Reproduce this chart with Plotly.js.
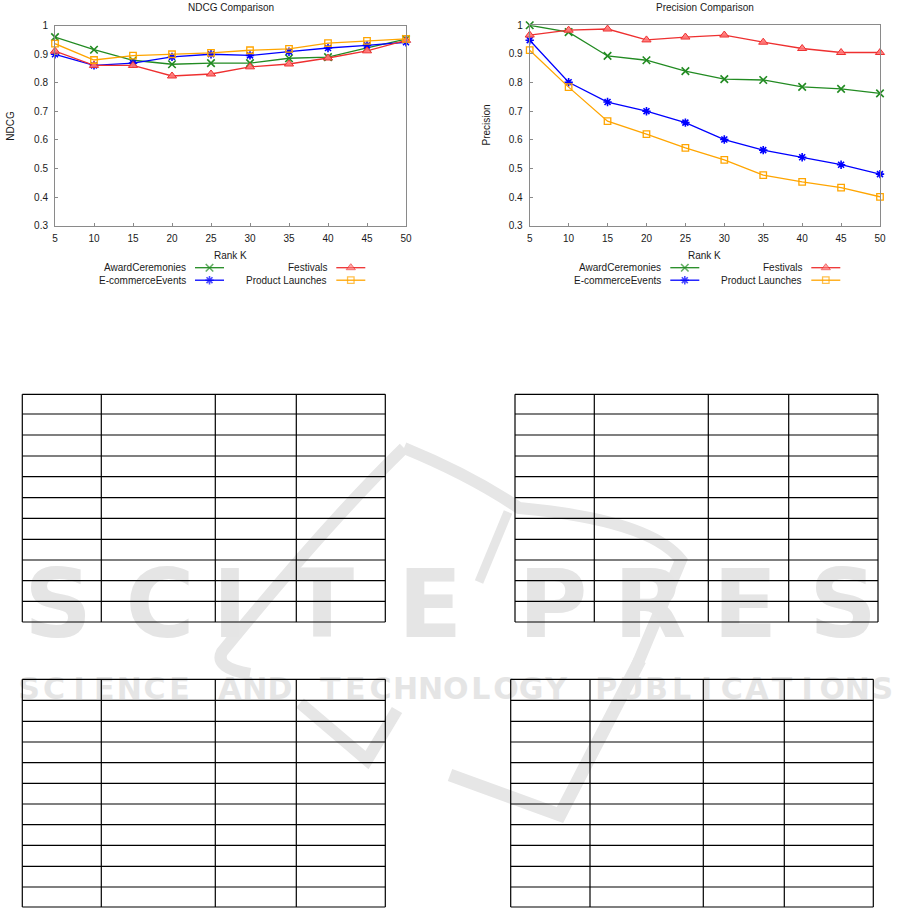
<!DOCTYPE html>
<html>
<head>
<meta charset="utf-8">
<script src="https://cdn.plot.ly/plotly-3.0.1.min.js"></script>
<style>html,body{margin:0;padding:0;background:#fff;}#chart{width:901px;height:908px;}</style>
</head>
<body>
<div id="chart"></div>
<script>
// ---------- data ----------
const rankK = [5, 10, 15, 20, 25, 30, 35, 40, 45, 50];
const seriesNames = ["AwardCeremonies", "E-commerceEvents", "Festivals", "Product Launches"];
const ndcgAward = [0.960, 0.916, 0.879, 0.865, 0.869, 0.869, 0.886, 0.890, 0.922, 0.953];
const ndcgEcom  = [0.900, 0.861, 0.869, 0.891, 0.900, 0.896, 0.909, 0.922, 0.931, 0.942];
const ndcgFest  = [0.911, 0.861, 0.861, 0.824, 0.831, 0.856, 0.866, 0.887, 0.912, 0.949];
const ndcgProd  = [0.937, 0.880, 0.895, 0.900, 0.905, 0.914, 0.919, 0.939, 0.947, 0.954];
const precAward = [1.000, 0.976, 0.893, 0.878, 0.840, 0.812, 0.809, 0.785, 0.778, 0.762];
const precEcom  = [0.948, 0.801, 0.732, 0.700, 0.660, 0.601, 0.564, 0.539, 0.513, 0.480];
const precFest  = [0.966, 0.983, 0.987, 0.949, 0.959, 0.966, 0.941, 0.919, 0.905, 0.905];
const precProd  = [0.913, 0.784, 0.665, 0.620, 0.572, 0.530, 0.477, 0.453, 0.433, 0.401];
const yTickVals = [0.3, 0.4, 0.5, 0.6, 0.7, 0.8, 0.9, 1];
const yTickText = ["0.3", "0.4", "0.5", "0.6", "0.7", "0.8", "0.9", "1"];
const xTickVals = rankK;
const chartTitles = ["NDCG Comparison", "Precision Comparison"];
const yTitles = ["NDCG", "Precision"];
const xTitle = "Rank K";
const watermarkBig = "SCITEPRES";   // the visible part of the watermark (last S is outside the picture)
const watermarkSmall = "SCIENCE AND TECHNOLOGY PUBLICATIONS";

// ---------- layout helpers ----------
const W = 901, H = 908;
const px = x => x / W;
const py = y => 1 - y / H;
const FONT = "Liberation Sans, Arial, sans-serif";
const TXT = "#1a1a1a";

const styles = [
  {color: "#228b22", symbol: "x-thin-open", size: 7.5, lw: 1.6, fill: null},
  {color: "#0000ff", symbol: "asterisk-open", size: 7, lw: 1.6, fill: null},
  {color: "#ee3030", symbol: "triangle-up", size: 8, lw: 1.0, fill: "rgba(255,120,120,0.9)"},
  {color: "#ffa500", symbol: "square-open", size: 6.5, lw: 1.3, fill: null}
];

const charts = [
  {xa: "x", ya: "y", left: 55, right: 406, top: 25.7, bottom: 225.7, data: [ndcgAward, ndcgEcom, ndcgFest, ndcgProd],
   ytitleX: 11, legCol1: 188, legCol2: 329.3},
  {xa: "x2", ya: "y2", left: 529.7, right: 880, top: 25.3, bottom: 225.7, data: [precAward, precEcom, precFest, precProd],
   ytitleX: 486, legCol1: 663.3, legCol2: 804.3}
];

const traces = [];

// ---------- watermark (drawn first, beneath everything) ----------
const wmColor = "rgb(229,229,229)";
const bigLetters = watermarkBig.split("");
const bigX = [58, 160, 230, 322, 430, 553, 650, 745, 843];
traces.push({
  type: "scatter", mode: "text", xaxis: "x3", yaxis: "y3", showlegend: false, hoverinfo: "skip", cliponaxis: false,
  x: bigX, y: bigX.map(() => 613),
  text: bigLetters.map(ch => "<b>" + ch + "</b>"),
  textfont: {family: "DejaVu Sans", size: 94, color: wmColor, weight: "bold"}
});
const smallChars = watermarkSmall.split("");
const smallStart = 29, smallStep = 25.1;
traces.push({
  type: "scatter", mode: "text", xaxis: "x3", yaxis: "y3", showlegend: false, hoverinfo: "skip", cliponaxis: false,
  x: smallChars.map((ch, k) => smallStart + k * smallStep), y: smallChars.map(() => 691),
  text: smallChars.map(ch => "<b>" + ch + "</b>"),
  textfont: {family: "DejaVu Sans", size: 30, color: wmColor, weight: "bold"}
});

charts.forEach(c => {
  c.data.forEach((vals, i) => {
    const s = styles[i];
    traces.push({
      type: "scatter", mode: "lines+markers", x: rankK, y: vals, xaxis: c.xa, yaxis: c.ya,
      name: seriesNames[i], showlegend: false, cliponaxis: false,
      line: {color: s.color, width: 1.3},
      marker: {symbol: s.symbol, size: s.size, color: s.fill || s.color, line: {color: s.color, width: s.lw}}
    });
  });
});

// legend samples drawn on a pixel overlay axis
const legendRows = [267.7, 280.2];
charts.forEach(c => {
  const entries = [
    {i: 0, col: c.legCol1, row: 0},
    {i: 2, col: c.legCol2, row: 0},
    {i: 1, col: c.legCol1, row: 1},
    {i: 3, col: c.legCol2, row: 1}
  ];
  entries.forEach(e => {
    const s = styles[e.i];
    const x0 = e.col + 7, x1 = e.col + 36;
    traces.push({
      type: "scatter", mode: "lines+markers", xaxis: "x3", yaxis: "y3", showlegend: false, cliponaxis: false,
      x: [x0, (x0 + x1) / 2, x1], y: [legendRows[e.row], legendRows[e.row], legendRows[e.row]],
      line: {color: s.color, width: 1.3},
      marker: {symbol: s.symbol, size: [0, s.size, 0], color: s.fill || s.color, line: {color: s.color, width: s.lw}}
    });
  });
});

// ---------- shapes ----------
const shapes = [];
function Q(d) {
  return d.map(seg => {
    const coords = [];
    for (let k = 1; k < seg.length; k += 2) coords.push(px(seg[k]) + "," + py(seg[k + 1]));
    return seg[0] + " " + coords.join(" ");
  }).join(" ");
}
const swooshColor = "rgb(230,230,230)";
const swooshes = [
  {w: 12, d: [["M", 404, 448], ["Q", 330, 520, 222, 652], ["Q", 214, 668, 250, 674]]},
  {w: 12, d: [["M", 404, 448], ["Q", 470, 475, 519, 508], ["Q", 650, 520, 681, 560], ["Q", 660, 610, 635, 670]]},
  {w: 13, d: [["M", 640, 660], ["L", 560, 815], ["L", 450, 775]]},
  {w: 12, d: [["M", 300, 703], ["L", 367, 760], ["L", 397, 710]]},
  {w: 9, d: [["M", 508, 512], ["L", 479, 582]]}
];
swooshes.forEach(s => shapes.push({type: "path", xref: "paper", yref: "paper", layer: "below",
  path: Q(s.d), line: {color: swooshColor, width: s.w}}));

// tables
const tables = [
  {cols: [22.3, 101.3, 215.3, 296.3, 385.3], rows: [394.3, 414, 435, 456, 476.7, 497.7, 518.3, 539.3, 560, 580.7, 601.3, 622]},
  {cols: [515, 594.3, 708.3, 788.7, 878], rows: [394.3, 414, 435, 456, 476.7, 497.7, 518.3, 539.3, 560, 580.7, 601.3, 622]},
  {cols: [22.3, 101.3, 215.3, 296.3, 385.3], rows: [679.3, 700.3, 721.3, 742, 762.7, 783.3, 804, 824.7, 845.3, 866.3, 887, 907]},
  {cols: [510.7, 590, 703.3, 784.3, 873.3], rows: [679.3, 700.3, 721.3, 742, 762.7, 783.3, 804, 824.7, 845.3, 866.3, 887, 907]}
];
tables.forEach(t => {
  const x0 = t.cols[0], x1 = t.cols[t.cols.length - 1];
  const y0 = t.rows[0], y1 = t.rows[t.rows.length - 1];
  t.rows.forEach(y => shapes.push({type: "line", xref: "paper", yref: "paper", layer: "above",
    x0: px(x0), x1: px(x1), y0: py(y), y1: py(y), line: {color: "#000", width: 1.2}}));
  t.cols.forEach(x => shapes.push({type: "line", xref: "paper", yref: "paper", layer: "above",
    x0: px(x), x1: px(x), y0: py(y0), y1: py(y1), line: {color: "#000", width: 1.2}}));
});

// ---------- annotations ----------
const annotations = [];
charts.forEach((c, ci) => {
  const cx = (c.left + c.right) / 2;
  annotations.push({xref: "paper", yref: "paper", x: px(cx), y: py(7), text: chartTitles[ci], showarrow: false,
    xanchor: "center", yanchor: "middle", font: {family: FONT, size: 10, color: TXT}});
  annotations.push({xref: "paper", yref: "paper", x: px(cx), y: py(255.5), text: xTitle, showarrow: false,
    xanchor: "center", yanchor: "middle", font: {family: FONT, size: 10, color: TXT}});
  annotations.push({xref: "paper", yref: "paper", x: px(c.ytitleX), y: py((c.top + c.bottom) / 2), text: yTitles[ci], showarrow: false,
    textangle: -90, xanchor: "center", yanchor: "middle", font: {family: FONT, size: 10, color: TXT}});
  const entries = [
    {i: 0, col: c.legCol1, row: 0}, {i: 2, col: c.legCol2, row: 0},
    {i: 1, col: c.legCol1, row: 1}, {i: 3, col: c.legCol2, row: 1}
  ];
  entries.forEach(e => annotations.push({xref: "paper", yref: "paper", x: px(e.col), y: py(legendRows[e.row]),
    text: seriesNames[e.i], showarrow: false, xanchor: "right", yanchor: "middle",
    font: {family: FONT, size: 10, color: TXT}}));
});

// ---------- axes ----------
function xAxis(c) {
  return {domain: [px(c.left), px(c.right)], range: [5, 50], tickvals: xTickVals, ticktext: xTickVals.map(String),
    showline: true, mirror: true, linecolor: "#8a8a8a", linewidth: 1, ticks: "inside", ticklen: 3, tickcolor: "#8a8a8a",
    showgrid: false, zeroline: false, fixedrange: true, ticklabelstandoff: 3,
    tickfont: {family: FONT, size: 10, color: TXT}, anchor: c.ya};
}
function yAxis(c) {
  return {domain: [py(c.bottom), py(c.top)], range: [0.3, 1], tickvals: yTickVals, ticktext: yTickText,
    showline: true, mirror: true, linecolor: "#8a8a8a", linewidth: 1, ticks: "inside", ticklen: 3, tickcolor: "#8a8a8a",
    showgrid: false, zeroline: false, fixedrange: true, ticklabelstandoff: 4,
    tickfont: {family: FONT, size: 10, color: TXT}, anchor: c.xa};
}

const layout = {
  width: W, height: H, margin: {l: 0, r: 0, t: 0, b: 0, pad: 0},
  paper_bgcolor: "#ffffff", plot_bgcolor: "rgba(0,0,0,0)", showlegend: false,
  xaxis: xAxis(charts[0]), yaxis: yAxis(charts[0]),
  xaxis2: xAxis(charts[1]), yaxis2: yAxis(charts[1]),
  xaxis3: {domain: [0, 1], range: [0, W], visible: false, fixedrange: true, anchor: "y3"},
  yaxis3: {domain: [0, 1], range: [H, 0], visible: false, fixedrange: true, anchor: "x3"},
  shapes: shapes, annotations: annotations, hovermode: false
};

Plotly.newPlot("chart", traces, layout, {displayModeBar: false, staticPlot: true});
</script>
</body>
</html>
